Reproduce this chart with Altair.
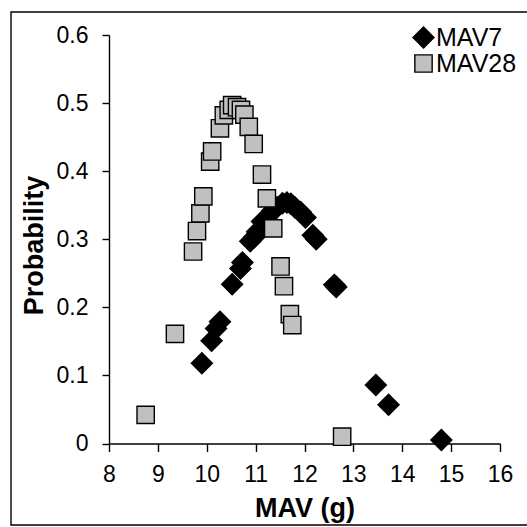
import altair as alt
import pandas as pd

# ---- data ----
series_names = ["MAV7", "MAV28"]

mav7_x = [9.90, 10.10, 10.19, 10.27, 10.52, 10.69, 10.73, 10.89, 10.97, 11.03,
          11.13, 11.23, 11.34, 11.44, 11.55, 11.64, 11.72, 11.80, 11.92, 12.02,
          12.17, 12.24, 12.61, 12.65, 13.46, 13.72, 14.80]
mav7_y = [0.118, 0.151, 0.169, 0.179, 0.234, 0.257, 0.266, 0.297, 0.303, 0.311,
          0.326, 0.332, 0.342, 0.347, 0.353, 0.354, 0.352, 0.347, 0.340, 0.332,
          0.306, 0.300, 0.233, 0.230, 0.086, 0.057, 0.005]

mav28_x = [8.75, 9.35, 9.72, 9.80, 9.87, 9.93, 10.07, 10.11, 10.27, 10.35,
           10.45, 10.52, 10.62, 10.70, 10.77, 10.86, 10.96, 11.13, 11.23, 11.36,
           11.51, 11.58, 11.70, 11.75, 12.77]
mav28_y = [0.042, 0.161, 0.282, 0.312, 0.338, 0.363, 0.414, 0.429, 0.463, 0.482,
           0.490, 0.497, 0.494, 0.490, 0.483, 0.465, 0.440, 0.395, 0.360, 0.316,
           0.260, 0.231, 0.190, 0.174, 0.010]

x_ticks = [8, 9, 10, 11, 12, 13, 14, 15, 16]
y_ticks = [0, 0.1, 0.2, 0.3, 0.4, 0.5, 0.6]

df = pd.DataFrame({
    "mav": mav7_x + mav28_x,
    "prob": mav7_y + mav28_y,
    "series": ["MAV7"] * len(mav7_x) + ["MAV28"] * len(mav28_x),
    "ord": list(range(len(mav7_x) + len(mav28_x))),
})

FONT = "Liberation Sans"
W, H = 391, 408.5
PAD_L, PAD_T = 109, 35

legend_kw = dict(title=None, orient="none", legendX=302, legendY=-10,
                 labelFont=FONT, labelFontSize=25, labelColor="black",
                 symbolSize=250, symbolStrokeColor="black",
                 symbolStrokeWidth=1.4, labelOffset=0, rowPadding=0,
                 padding=0)

points = alt.Chart(df).mark_point(
    filled=True, stroke="black", strokeWidth=1.4, opacity=1
).encode(
    x=alt.X("mav:Q",
            scale=alt.Scale(domain=[8, 16], nice=False, zero=False),
            axis=alt.Axis(title="MAV (g)", values=x_ticks, tickSize=8,
                          labelPadding=12, labelFlush=False,
                          titleY=72.5, titleBaseline="alphabetic")),
    y=alt.Y("prob:Q",
            scale=alt.Scale(domain=[0, 0.6], nice=False),
            axis=alt.Axis(title="Probability", values=y_ticks, tickSize=7,
                          labelPadding=14, labelFlush=False,
                          labelExpr="datum.value == 0 ? '0' : format(datum.value, '.1f')",
                          titleAngle=270, titleX=-67, titleY=210,
                          titleAlign="center", titleBaseline="alphabetic")),
    color=alt.Color("series:N",
                    scale=alt.Scale(domain=series_names, range=["#000000", "#c0c0c0"]),
                    legend=alt.Legend(**legend_kw)),
    shape=alt.Shape("series:N",
                    scale=alt.Scale(domain=series_names, range=["diamond", "square"]),
                    legend=alt.Legend(**legend_kw)),
    size=alt.Size("series:N",
                  scale=alt.Scale(domain=series_names, range=[440, 300]),
                  legend=None),
    order=alt.Order("ord:Q"),
)

frame = alt.Chart(alt.Data(values=[{}])).mark_rect(
    fillOpacity=0, stroke="black", strokeWidth=1.4
).encode(
    x=alt.value(11 - PAD_L), x2=alt.value(540 - PAD_L),
    y=alt.value(12 - PAD_T), y2=alt.value(525 - PAD_T),
)

chart = alt.layer(points, frame).properties(
    width=W, height=H,
    autosize=alt.AutoSizeParams(type="none"),
    padding={"left": PAD_L, "top": PAD_T, "right": 527 - PAD_L - W, "bottom": 527 - PAD_T - H},
    background="white",
).configure_view(stroke=None).configure_axis(
    domainColor="black", domainWidth=1.4, tickColor="black", tickWidth=1.4,
    grid=False, labelFont=FONT, labelFontSize=23, labelColor="black",
    titleFont=FONT, titleFontSize=27, titleFontWeight="bold", titleColor="black",
)

chart.save("out.html", embed_options={"renderer": "svg", "actions": False})
